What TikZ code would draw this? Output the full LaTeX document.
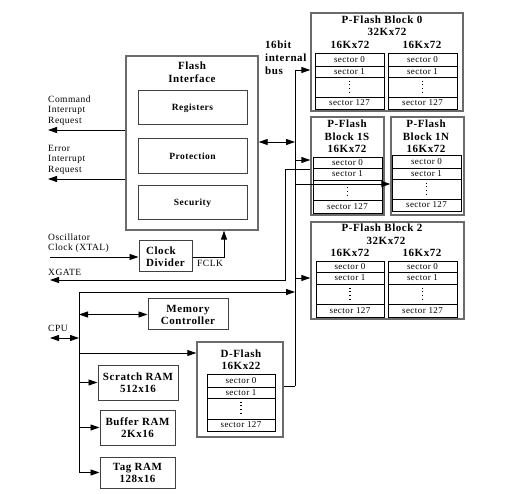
\documentclass[tikz,border=0pt]{standalone}
\usepackage{fontspec}
\setmainfont{Liberation Serif}[LetterSpace=5]
\usetikzlibrary{arrows.meta}
\definecolor{bordgray}{gray}{0.42}
\definecolor{darkgray}{gray}{0.25}
\newcommand\mkbox[7]{% style,name,x1,y1,x2,y2,text
  \pgfmathsetmacro\bxw{#5-#3}\pgfmathsetmacro\bxh{#6-#4}%
  \pgfmathsetmacro\bxx{(#3+#5)/2}\pgfmathsetmacro\bxy{(#4+#6)/2}%
  \node[#1,minimum width=\bxw pt,minimum height=\bxh pt] (#2) at (\bxx,\bxy) {#7};}
\newcommand\seccol[8]{% name xl xr y0 y1 y2 y3 y4
  \mkbox{sec}{#1a}{#2}{#4}{#3}{#5}{sector 0}
  \mkbox{sec}{#1b}{#2}{#5}{#3}{#6}{sector 1}
  \mkbox{sec}{#1c}{#2}{#6}{#3}{#7}{}
  \mkbox{sec}{#1d}{#2}{#7}{#3}{#8}{sector 127}
  \draw[dotsty] ([yshift=-4pt]#1c.north) -- ([yshift=4pt]#1c.south);}
\begin{document}
\begin{tikzpicture}[x=1pt,y=-1pt,
  graybox/.style={draw=bordgray,line width=1.4pt,inner sep=0pt,align=center,font=\fontsize{9.5}{11}\selectfont\bfseries},
  blkbox/.style={draw=darkgray,line width=1pt,inner sep=0pt,align=center,font=\fontsize{9.5}{11}\selectfont\bfseries},
  rambox/.style={draw=darkgray,line width=1pt,inner sep=0pt,align=center,font=\fontsize{11}{12}\selectfont\bfseries},
  sec/.style={draw=black,line width=0.8pt,inner sep=0pt,font=\fontsize{9}{9}\selectfont},
  dotsty/.style={line width=1.1pt,dash pattern=on 1.1pt off 2.6pt},
  ttl/.style={font=\fontsize{11}{12.5}\selectfont\bfseries,inner sep=0pt,align=center},
  lbl/.style={font=\fontsize{9.5}{10.5}\selectfont,inner sep=0pt,align=left,anchor=west},
  conn/.style={line width=0.9pt},
  arr/.style={conn,-{Triangle[length=9pt,width=6pt]}},
  biarr/.style={conn,{Triangle[length=9pt,width=6pt]}-{Triangle[length=9pt,width=6pt]}},
]
\useasboundingbox (0,0) rectangle (506,494);

% Flash interface
\mkbox{graybox}{FI}{126}{56}{258}{230}{}
\node[ttl] (FIt) at (192,72) {Flash\\Interface};
\mkbox{blkbox}{REG}{138}{91}{247}{125}{Registers}
\mkbox{blkbox}{PRO}{138}{139}{247}{174}{Protection}
\mkbox{blkbox}{SEC}{138}{186}{247}{220}{Security}
\mkbox{rambox,align=left}{CD}{139}{241}{192}{272}{Clock\\Divider}

% P-Flash blocks
\mkbox{graybox}{B0}{311}{13}{463}{111}{}
\node[ttl] (t0a) at (382,20) {P-Flash Block 0};
\node[ttl] (t0b) at (387,32) {32Kx72};
\node[ttl] (t0c) at (350,45) {16Kx72};
\node[ttl] (t0d) at (422,45) {16Kx72};
\seccol{BL}{315}{384}{53}{66}{77}{97}{109}
\seccol{BR}{388}{457}{53}{66}{77}{97}{109}

\mkbox{graybox}{B1S}{311}{117}{384}{215}{}
\node[ttl] (t1s) at (347,136.5) {P-Flash\\Block 1S\\16Kx72};
\seccol{CS}{313}{382}{157}{168}{180}{200}{213}
\mkbox{graybox}{B1N}{391}{117}{464}{215}{}
\node[ttl] (t1n) at (426,136.5) {P-Flash\\Block 1N\\16Kx72};
\seccol{CN}{392}{461}{155}{168}{179}{199}{211}

\mkbox{graybox}{B2}{311}{222}{464}{319}{}
\node[ttl] (t2a) at (382,228) {P-Flash Block 2};
\node[ttl] (t2b) at (386,241) {32Kx72};
\node[ttl] (t2c) at (350,253) {16Kx72};
\node[ttl] (t2d) at (422,253) {16Kx72};
\seccol{DL}{316}{384}{261}{272}{284}{304}{317}
\seccol{DR}{388}{457}{261}{272}{284}{304}{317}

% D-Flash
\mkbox{graybox}{DF}{197}{342}{283}{437}{}
\node[ttl] (tdf) at (241,359.5) {D-Flash\\16Kx22};
\seccol{EF}{207}{275}{374}{387}{398}{419}{431}

% Memory controller and RAMs
\mkbox{rambox}{MC}{148}{299}{228}{330}{Memory\\Controller}
\mkbox{rambox}{SR}{98}{365}{178}{400}{Scratch RAM\\512x16}
\mkbox{rambox}{BR}{100}{410}{175}{445}{Buffer RAM\\2Kx16}
\mkbox{rambox}{TR}{100}{457}{175}{488}{Tag RAM\\128x16}

% labels
\node[lbl] (lcmd) at (48,110.5) {Command\\Interrupt\\Request};
\node[lbl] (lerr) at (48,159.5) {Error\\Interrupt\\Request};
\node[lbl] (losc) at (48,243) {Oscillator\\Clock (XTAL)};
\node[lbl] (lxg) at (48,272) {XGATE};
\node[lbl] (lcpu) at (48,328) {CPU};
\node[lbl] (lfclk) at (197,263) {FCLK};
\node[lbl,font=\fontsize{11}{13}\selectfont\bfseries] (lbus) at (265,58) {16bit\\internal\\bus};

% connectors
\coordinate (cmd) at (48,130);
\draw[arr] (FI.west |- cmd) -- (cmd);
\coordinate (err) at (48,179);
\draw[arr] (FI.west |- err) -- (err);
\coordinate (osc) at (50,257);
\draw[arr] (osc) -- (osc -| CD.west);
\coordinate (fclk) at (224,257);
\draw[arr] (CD.east |- fclk) -- (fclk) -- (fclk |- FI.south);

\coordinate (bustop) at (295,70);
\coordinate (busbot) at (295,386);
\draw[conn] (bustop) -- (busbot);
\draw[arr] (bustop) -- (bustop -| B0.west);
\coordinate (b1s) at (295,160);
\draw[arr] (b1s) -- (b1s -| B1S.west);
\coordinate (b1n) at (295,184);
\draw[arr] (b1n) -- (b1n -| B1N.west);
\coordinate (b2) at (295,278);
\draw[arr] (b2) -- (b2 -| B2.west);
\coordinate (fib) at (295,142);
\draw[biarr] (FI.east |- fib) -- (fib);

\coordinate (xg1) at (285,169);
\coordinate (xg) at (50,280);
\draw[arr] (xg1 -| B1S.west) -- (xg1) -- (xg1 |- xg) -- (xg);

\coordinate (cputop) at (79,292);
\coordinate (cpubot) at (79,472.5);
\draw[conn] (cputop) -- (cpubot);
\draw[arr] (cputop) -- (cputop -| bustop);
\draw[biarr] (MC.west -| cputop) -- (MC.west);
\coordinate (cpuL) at (50,338);
\draw[biarr] (cpuL) -- (cpuL -| cputop);
\coordinate (dfa) at (79,353);
\draw[arr] (dfa) -- (dfa -| DF.west);
\draw[arr] (SR.west -| cputop) -- (SR.west);
\draw[arr] (BR.west -| cputop) -- (BR.west);
\draw[arr] (TR.west -| cputop) -- (TR.west);
\draw[conn] (DF.east |- busbot) -- (busbot);
\end{tikzpicture}
\end{document}
